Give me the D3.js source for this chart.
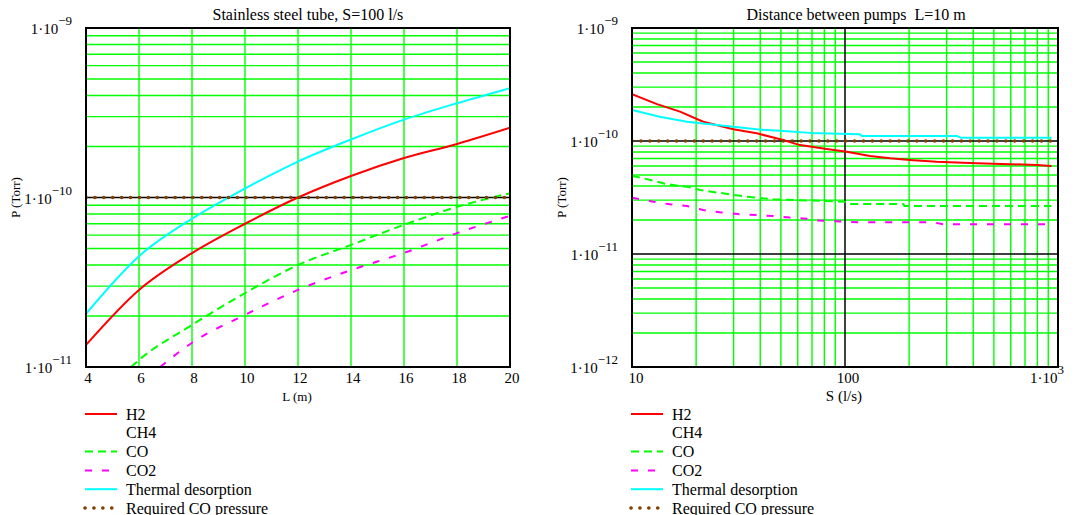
<!DOCTYPE html>
<html><head><meta charset="utf-8">
<script src="https://cdn.jsdelivr.net/npm/d3@7"></script>
<style>
body{margin:0;background:#fff}
text{font-family:"Liberation Serif","Times New Roman",serif;fill:#000;white-space:pre}
</style>
</head><body>
<svg id="c" width="1075" height="515"></svg>
<script>
// ---------- data: left chart (vs tube length L, S = 100 l/s) ----------
const leftL        = [4, 6, 8, 10, 12, 14, 16, 18, 20];
const leftH2       = [1.35e-11, 2.85e-11, 4.7e-11, 7.0e-11, 1.0e-10, 1.34e-10, 1.71e-10, 2.07e-10, 2.58e-10];
const leftThermal  = [2.06e-11, 4.5e-11, 7.5e-11, 1.13e-10, 1.63e-10, 2.2e-10, 2.88e-10, 3.6e-10, 4.42e-10];
const leftCO_L     = [5.7, 6, 8, 10, 12, 14, 16, 18, 20];
const leftCO       = [1.0e-11, 1.1e-11, 1.77e-11, 2.73e-11, 4.0e-11, 5.25e-11, 6.9e-11, 8.8e-11, 1.06e-10];
const leftCO2_L    = [6.8, 8, 10, 12, 14, 16, 18, 20];
const leftCO2      = [1.0e-11, 1.39e-11, 2.03e-11, 2.85e-11, 3.73e-11, 4.71e-11, 6.16e-11, 7.8e-11];
const leftXTicks   = [4, 6, 8, 10, 12, 14, 16, 18, 20];
const leftYExp     = [-11, -10, -9];

// ---------- data: right chart (vs pumping speed S, L = 10 m) ----------
const rightH2_S    = [10, 13.1, 16.8, 21.6, 29.9, 38.5, 51.3, 61.5, 82, 102, 131, 163, 202, 269, 415, 794, 933];
const rightH2      = [2.59e-10, 2.12e-10, 1.82e-10, 1.48e-10, 1.27e-10, 1.17e-10, 1.02e-10, 9.2e-11, 8.5e-11, 8.04e-11, 7.36e-11, 7.03e-11, 6.79e-11, 6.56e-11, 6.35e-11, 6.14e-11, 6.01e-11];
const rightTh_S    = [10, 13.5, 18.1, 23.2, 29.9, 38.5, 49.5, 68.5, 117, 120, 334, 350, 933];
const rightThermal = [1.88e-10, 1.64e-10, 1.48e-10, 1.41e-10, 1.34e-10, 1.27e-10, 1.23e-10, 1.18e-10, 1.15e-10, 1.11e-10, 1.11e-10, 1.07e-10, 1.07e-10];
const rightCO_S    = [10, 11.3, 14.5, 18.7, 20.9, 34.5, 46, 102, 106, 188, 190, 930];
const rightCO      = [4.9e-11, 4.68e-11, 4.16e-11, 3.89e-11, 3.68e-11, 3.21e-11, 3.05e-11, 2.9e-11, 2.77e-11, 2.77e-11, 2.66e-11, 2.66e-11];
const rightCO2_S   = [10, 12.6, 15.1, 18.1, 21.6, 25.9, 32.1, 46, 55.1, 66, 70, 117, 259, 290, 930];
const rightCO2     = [3.15e-11, 2.9e-11, 2.75e-11, 2.66e-11, 2.45e-11, 2.34e-11, 2.25e-11, 2.17e-11, 2.1e-11, 2.05e-11, 1.99e-11, 1.91e-11, 1.91e-11, 1.83e-11, 1.83e-11];
const rightYExp    = [-12, -11, -10, -9];

const requiredCO   = 1e-10;
const legendNames  = ["H2", "CH4", "CO", "CO2", "Thermal desorption", "Required CO pressure"];

// ---------- styles ----------
const styles = {
  H2:      {stroke: "#ff0000", dash: null, w: 2},
  CH4:     null,
  CO:      {stroke: "#00ff00", dash: "8,5", w: 2},
  CO2:     {stroke: "#ff00ff", dash: "7,10", w: 2},
  Thermal: {stroke: "#00ffff", dash: null, w: 2},
  Req:     {stroke: "#804000", dash: "0.1,8.8", w: 3.6, cap: "round"}
};
const styleKeys = ["H2", "CH4", "CO", "CO2", "Thermal", "Req"];
const GRID = "#00ff00";

const svg = d3.select("#c");

function zip(xs, ys) { return xs.map((x, i) => [x, ys[i]]); }

function sciLabel(g, x, y, mant, exp, anchor, size, supSize) {
  const t = g.append("text").attr("x", x).attr("y", y)
    .attr("text-anchor", anchor).attr("font-size", size);
  t.append("tspan").text(mant + "\u00b710");
  t.append("tspan").attr("dy", -9).attr("font-size", supSize)
    .text(exp < 0 ? "\u2212" + Math.abs(exp) : String(exp));
  return t;
}

function drawPanel(opt) {
  const {x, y, id} = opt;
  const [x0, x1] = x.range(), [y0, y1] = y.range();
  const g = svg.append("g");
  g.append("clipPath").attr("id", id).append("rect")
    .attr("x", x0).attr("y", y1).attr("width", x1 - x0).attr("height", y0 - y1);

  // gridlines
  const grid = g.append("g");
  opt.vMinor.forEach(v => grid.append("line").attr("x1", x(v)).attr("x2", x(v))
    .attr("y1", y0).attr("y2", y1).attr("stroke", GRID).attr("stroke-width", 1.4));
  opt.hMinor.forEach(v => grid.append("line").attr("y1", y(v)).attr("y2", y(v))
    .attr("x1", x0).attr("x2", x1).attr("stroke", GRID).attr("stroke-width", 1.4));
  opt.vMajor.forEach(v => grid.append("line").attr("x1", x(v)).attr("x2", x(v))
    .attr("y1", y0).attr("y2", y1).attr("stroke", "#000").attr("stroke-width", 1.5));
  opt.hMajor.forEach(v => grid.append("line").attr("y1", y(v)).attr("y2", y(v))
    .attr("x1", x0).attr("x2", x1).attr("stroke", "#000").attr("stroke-width", 1.5));

  // data
  const line = d3.line().x(d => x(d[0])).y(d => y(d[1])).curve(opt.curve || d3.curveLinear);
  const data = g.append("g").attr("clip-path", `url(#${id})`);
  opt.series.forEach(s => {
    const st = styles[s.key];
    data.append("path").attr("d", line(s.pts)).attr("fill", "none")
      .attr("stroke", st.stroke).attr("stroke-width", st.w)
      .attr("stroke-dasharray", st.dash).attr("stroke-linecap", st.cap || "butt")
      .attr("stroke-linejoin", "round");
  });

  // border
  g.append("rect").attr("x", x0).attr("y", y1).attr("width", x1 - x0).attr("height", y0 - y1)
    .attr("fill", "none").attr("stroke", "#000").attr("stroke-width", 2);

  // title
  g.append("text").attr("x", opt.titleX).attr("y", 20).attr("font-size", 16)
    .attr("text-anchor", "start").text(opt.title);

  // y labels
  opt.yExp.forEach(e => sciLabel(g, opt.yLabelX, y(Math.pow(10, e)) + 6, 1, e, "end", 15, 13));
  // y axis title
  g.append("text").attr("transform", `translate(${opt.yTitleX},${(y0 + y1) / 2}) rotate(-90)`)
    .attr("text-anchor", "middle").attr("font-size", 13).text("P (Torr)");
  // x axis title
  g.append("text").attr("x", (x0 + x1) / 2 - 1).attr("y", 401).attr("text-anchor", "middle")
    .attr("font-size", opt.xTitleSize).text(opt.xTitle);

  // legend
  const lx = x0 - 1, tx = x0 + 40;
  legendNames.forEach((name, i) => {
    const by = 419.5 + i * 18.8;
    const st = styles[styleKeys[i]];
    if (st) {
      g.append("line").attr("x1", lx).attr("x2", lx + 32).attr("y1", by - 5.5).attr("y2", by - 5.5)
        .attr("stroke", st.stroke).attr("stroke-width", st.w)
        .attr("stroke-dasharray", st.dash).attr("stroke-linecap", st.cap || "butt");
    }
    g.append("text").attr("x", tx).attr("y", by).attr("font-size", 16).text(name);
  });
  return g;
}

// ---------- left panel ----------
const xL = d3.scaleLinear().domain([4, 20]).range([86, 510]);
const yL = d3.scaleLog().domain([1e-11, 1e-9]).range([367, 28]);
const minorDec = (lo, hi) => { const a = []; for (let e = lo; e < hi; e++) for (let k = 2; k <= 9; k++) a.push(k * Math.pow(10, e)); return a; };

const gL = drawPanel({
  id: "clipL", x: xL, y: yL, curve: d3.curveMonotoneX,
  vMinor: [6, 8, 10, 12, 14, 16, 18], vMajor: [],
  hMinor: minorDec(-11, -9), hMajor: [1e-10],
  series: [
    {key: "H2", pts: zip(leftL, leftH2)},
    {key: "CO", pts: zip(leftCO_L, leftCO)},
    {key: "CO2", pts: zip(leftCO2_L, leftCO2)},
    {key: "Thermal", pts: zip(leftL, leftThermal)},
    {key: "Req", pts: [[4, requiredCO], [20, requiredCO]]}
  ],
  title: "Stainless steel tube, S=100 l/s", titleX: 212.5,
  yExp: leftYExp, yLabelX: 72, yTitleX: 20,
  xTitle: "L (m)", xTitleSize: 13
});
leftXTicks.forEach(v => gL.append("text").attr("x", xL(v) + 2).attr("y", 383)
  .attr("text-anchor", "middle").attr("font-size", 15).text(v));

// ---------- right panel ----------
const xR = d3.scaleLog().domain([10, 1000]).range([632, 1058]);
const yR = d3.scaleLog().domain([1e-12, 1e-9]).range([367, 28]);
const gR = drawPanel({
  id: "clipR", x: xR, y: yR,
  vMinor: [20, 30, 40, 50, 60, 70, 80, 90, 200, 300, 400, 500, 600, 700, 800, 900], vMajor: [100],
  hMinor: minorDec(-12, -9), hMajor: [1e-11, 1e-10],
  series: [
    {key: "H2", pts: zip(rightH2_S, rightH2)},
    {key: "CO", pts: zip(rightCO_S, rightCO)},
    {key: "CO2", pts: zip(rightCO2_S, rightCO2)},
    {key: "Thermal", pts: zip(rightTh_S, rightThermal)},
    {key: "Req", pts: [[10, requiredCO], [1000, requiredCO]]}
  ],
  title: "Distance between pumps\u00a0\u00a0L=10 m", titleX: 746.5,
  yExp: rightYExp, yLabelX: 618, yTitleX: 566,
  xTitle: "S (l/s)", xTitleSize: 15
});
gR.append("text").attr("x", xR(10) + 4).attr("y", 383).attr("text-anchor", "middle")
  .attr("font-size", 15).text("10");
gR.append("text").attr("x", xR(100) + 3).attr("y", 383).attr("text-anchor", "middle")
  .attr("font-size", 15).text("100");
sciLabel(gR, 1064, 383, 1, 3, "end", 15, 13);
</script>
</body></html>
